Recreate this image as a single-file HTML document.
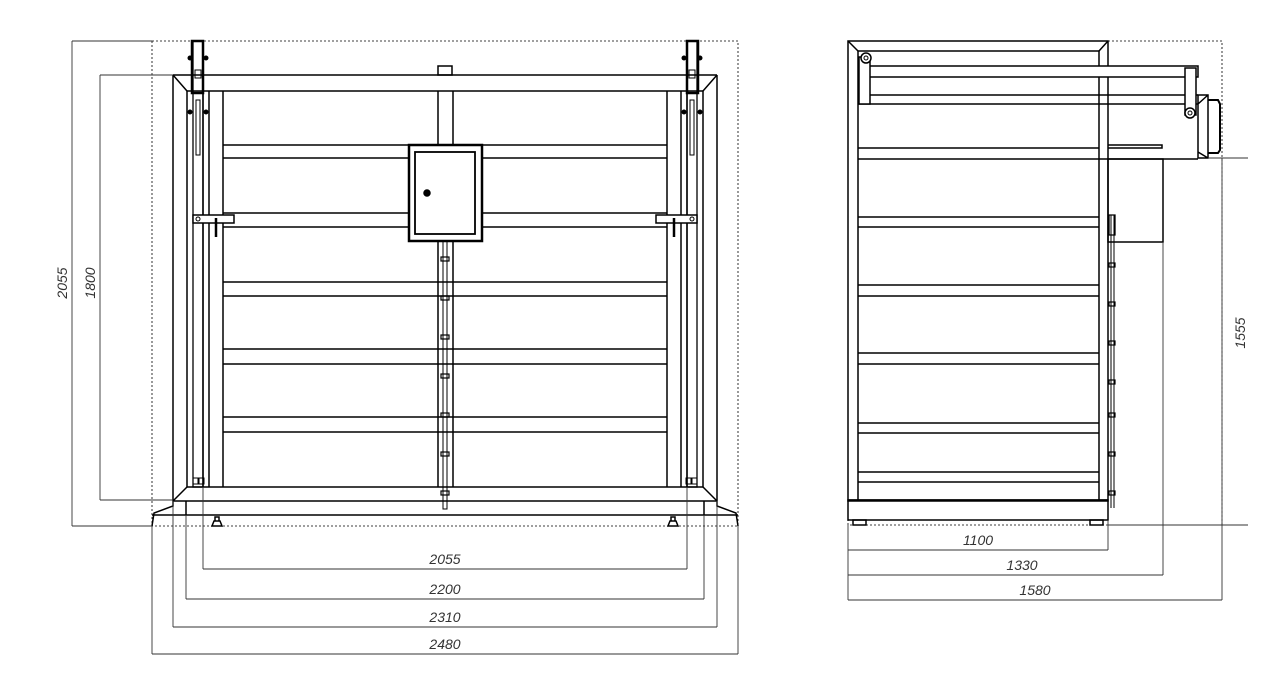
<!DOCTYPE html>
<html><head><meta charset="utf-8"><style>html,body{margin:0;padding:0;background:#fff}svg{display:block}</style></head><body>
<svg width="1280" height="682" viewBox="0 0 1280 682" xmlns="http://www.w3.org/2000/svg" font-family="Liberation Sans, sans-serif">
<g fill="none" stroke="#000" stroke-width="1.5">
<!-- FRONT VIEW -->
<rect x="152" y="41" width="586" height="485" stroke-width="0.8" stroke-dasharray="2,2"/>
<line x1="173" y1="75" x2="717" y2="75"/>
<line x1="187" y1="91" x2="703" y2="91"/>
<line x1="173" y1="75" x2="187" y2="91"/><line x1="717" y1="75" x2="703" y2="91"/>
<line x1="173" y1="75" x2="173" y2="501"/><line x1="717" y1="75" x2="717" y2="501"/>
<line x1="187" y1="91" x2="187" y2="487"/><line x1="703" y1="91" x2="703" y2="487"/>
<line x1="187" y1="487" x2="703" y2="487"/>
<line x1="173" y1="501" x2="717" y2="501"/>
<line x1="173" y1="501" x2="187" y2="487"/><line x1="717" y1="501" x2="703" y2="487"/>
<line x1="152" y1="515" x2="738" y2="515"/>
<line x1="186" y1="501" x2="186" y2="515"/><line x1="704" y1="501" x2="704" y2="515"/>
<path d="M173 501 L173 506 L154 513 L152 526"/><path d="M717 501 L717 506 L736 513 L738 526"/>
<path d="M212 526 L214 521 L220 521 L222 526 Z M215 521 L215 517 L219 517 L219 521"/>
<path d="M668 526 L670 521 L676 521 L678 526 Z M671 521 L671 517 L675 517 L675 521"/>
<line x1="209" y1="91" x2="209" y2="487"/><line x1="223" y1="91" x2="223" y2="487"/>
<line x1="203" y1="91" x2="203" y2="487"/>
<line x1="681" y1="91" x2="681" y2="487"/><line x1="667" y1="91" x2="667" y2="487"/>
<line x1="687" y1="91" x2="687" y2="487"/>
<rect x="193" y="41" width="10" height="446" stroke-width="1.3"/>
<rect x="687" y="41" width="10" height="446" stroke-width="1.3"/>
<rect x="192" y="41" width="11" height="52" stroke-width="2.5"/>
<rect x="687" y="41" width="11" height="52" stroke-width="2.5"/>
<rect x="196" y="100" width="4" height="55" stroke-width="1"/>
<rect x="690" y="100" width="4" height="55" stroke-width="1"/>
<rect x="195" y="70" width="6" height="8" stroke-width="1"/><rect x="689" y="70" width="6" height="8" stroke-width="1"/>
<rect x="193" y="478" width="5" height="6" stroke-width="1"/><rect x="199" y="478" width="5" height="6" stroke-width="1"/>
<rect x="686" y="478" width="5" height="6" stroke-width="1"/><rect x="692" y="478" width="5" height="6" stroke-width="1"/>
<g>
<line x1="223" y1="145" x2="667" y2="145"/><line x1="223" y1="158" x2="667" y2="158"/>
<line x1="223" y1="213" x2="667" y2="213"/><line x1="223" y1="227" x2="667" y2="227"/>
<line x1="223" y1="282" x2="667" y2="282"/><line x1="223" y1="296" x2="667" y2="296"/>
<line x1="223" y1="349" x2="667" y2="349"/><line x1="223" y1="364" x2="667" y2="364"/>
<line x1="223" y1="417" x2="667" y2="417"/><line x1="223" y1="432" x2="667" y2="432"/>
</g>
<line x1="438" y1="91" x2="438" y2="487"/><line x1="453" y1="91" x2="453" y2="487"/>
<rect x="438" y="66" width="14" height="9"/>
<rect x="443" y="241" width="4" height="268" stroke-width="1"/>
<g stroke-width="1.2">
<rect x="441" y="257" width="8" height="4"/><rect x="441" y="296" width="8" height="4"/><rect x="441" y="335" width="8" height="4"/><rect x="441" y="374" width="8" height="4"/><rect x="441" y="413" width="8" height="4"/><rect x="441" y="452" width="8" height="4"/><rect x="441" y="491" width="8" height="4"/>
</g>
<rect x="409" y="145" width="73" height="96" fill="#fff" stroke-width="2.5"/>
<rect x="415" y="152" width="60" height="82" stroke-width="1.8"/>
<circle cx="427" cy="193" r="3" fill="#000"/>
<rect x="193" y="215" width="41" height="8" fill="#fff"/>
<line x1="216" y1="218" x2="216" y2="237" stroke-width="2.5"/><circle cx="198" cy="219" r="2" stroke-width="1"/>
<rect x="656" y="215" width="41" height="8" fill="#fff"/>
<line x1="674" y1="218" x2="674" y2="237" stroke-width="2.5"/><circle cx="692" cy="219" r="2" stroke-width="1"/>
<g fill="#000" stroke="none"><circle cx="190" cy="58" r="2.5"/><circle cx="206" cy="58" r="2.5"/><circle cx="190" cy="112" r="2.5"/><circle cx="206" cy="112" r="2.5"/><circle cx="684" cy="58" r="2.5"/><circle cx="700" cy="58" r="2.5"/><circle cx="684" cy="112" r="2.5"/><circle cx="700" cy="112" r="2.5"/></g>

<g stroke="#333" stroke-width="0.9">
<line x1="72" y1="41" x2="152" y2="41"/><line x1="72" y1="526" x2="152" y2="526"/><line x1="72" y1="41" x2="72" y2="526"/>
<line x1="100" y1="75" x2="173" y2="75"/><line x1="100" y1="500" x2="173" y2="500"/><line x1="100" y1="75" x2="100" y2="500"/>
<line x1="203" y1="487" x2="203" y2="569"/><line x1="687" y1="487" x2="687" y2="569"/><line x1="203" y1="569" x2="687" y2="569"/>
<line x1="186" y1="515" x2="186" y2="599"/><line x1="704" y1="515" x2="704" y2="599"/><line x1="186" y1="599" x2="704" y2="599"/>
<line x1="173" y1="501" x2="173" y2="627"/><line x1="717" y1="501" x2="717" y2="627"/><line x1="173" y1="627" x2="717" y2="627"/>
<line x1="152" y1="526" x2="152" y2="654"/><line x1="738" y1="526" x2="738" y2="654"/><line x1="152" y1="654" x2="738" y2="654"/>
</g>

<!-- SIDE VIEW -->
<rect x="848" y="41" width="374" height="484" stroke-width="0.8" stroke-dasharray="2,2"/>
<rect x="848" y="41" width="260" height="460"/>
<line x1="858" y1="51" x2="1099" y2="51"/>
<line x1="858" y1="51" x2="858" y2="500"/><line x1="1099" y1="51" x2="1099" y2="500"/>
<line x1="848" y1="41" x2="858" y2="51"/><line x1="1108" y1="41" x2="1099" y2="51"/>
<line x1="848" y1="500" x2="1108" y2="500"/>
<rect x="848" y="500" width="260" height="20"/>
<rect x="853" y="520" width="13" height="5"/><rect x="1090" y="520" width="13" height="5"/>
<line x1="858" y1="148" x2="1099" y2="148"/><line x1="858" y1="159" x2="1198" y2="159"/>
<line x1="858" y1="217" x2="1099" y2="217"/><line x1="858" y1="227" x2="1099" y2="227"/>
<line x1="858" y1="285" x2="1099" y2="285"/><line x1="858" y1="296" x2="1099" y2="296"/>
<line x1="858" y1="353" x2="1099" y2="353"/><line x1="858" y1="364" x2="1099" y2="364"/>
<line x1="858" y1="423" x2="1099" y2="423"/><line x1="858" y1="433" x2="1099" y2="433"/>
<line x1="858" y1="472" x2="1099" y2="472"/><line x1="858" y1="482" x2="1099" y2="482"/>
<rect x="862" y="66" width="336" height="11" fill="#fff"/>
<line x1="858" y1="95" x2="1198" y2="95"/><line x1="858" y1="104" x2="1198" y2="104"/>
<rect x="859" y="57" width="11" height="47" fill="#fff"/>
<circle cx="866" cy="58" r="5" fill="#fff"/><circle cx="866" cy="58" r="2" stroke-width="1"/>
<rect x="1185" y="68" width="11" height="47" fill="#fff"/>
<circle cx="1190" cy="113" r="5" fill="#fff"/><circle cx="1190" cy="113" r="2" stroke-width="1"/>
<path d="M1198 95 L1208 95 L1208 158 L1198 158 Z M1198 104 L1208 95 M1198 152 L1208 158"/>
<path d="M1208 100 L1218 100 L1220 104 L1220 150 L1218 153 L1208 153" stroke-width="2"/>
<path d="M1108 148 L1162 148 L1162 145 L1108 145"/>
<rect x="1108" y="159" width="55" height="83"/>
<line x1="1163" y1="242" x2="1163" y2="575" stroke="#333" stroke-width="0.9"/>
<line x1="1111" y1="215" x2="1111" y2="508" stroke-width="1"/><line x1="1114" y1="215" x2="1114" y2="508" stroke-width="1"/>
<path d="M1109 215 L1115 215 L1115 235 L1109 235 Z" stroke-width="1.3"/>
<g stroke-width="1.2"><rect x="1109" y="263" width="6" height="4"/><rect x="1109" y="302" width="6" height="4"/><rect x="1109" y="341" width="6" height="4"/><rect x="1109" y="380" width="6" height="4"/><rect x="1109" y="413" width="6" height="4"/><rect x="1109" y="452" width="6" height="4"/><rect x="1109" y="491" width="6" height="4"/></g>

<g stroke="#333" stroke-width="0.9">
<line x1="848" y1="525" x2="848" y2="600"/>
<line x1="1108" y1="520" x2="1108" y2="550"/><line x1="848" y1="550" x2="1108" y2="550"/>
<line x1="848" y1="575" x2="1163" y2="575"/>
<line x1="1222" y1="525" x2="1222" y2="600"/><line x1="848" y1="600" x2="1222" y2="600"/>
<line x1="1208" y1="158" x2="1248" y2="158"/><line x1="1108" y1="525" x2="1248" y2="525"/>
<line x1="1222" y1="158" x2="1222" y2="525"/>
</g>
</g>
<g fill="#333" font-size="14" font-style="italic">
<text x="445" y="564" text-anchor="middle">2055</text>
<text x="445" y="594" text-anchor="middle">2200</text>
<text x="445" y="622" text-anchor="middle">2310</text>
<text x="445" y="649" text-anchor="middle">2480</text>
<text transform="translate(67,283) rotate(-90)" text-anchor="middle">2055</text>
<text transform="translate(95,283) rotate(-90)" text-anchor="middle">1800</text>
<text x="978" y="545" text-anchor="middle">1100</text>
<text x="1022" y="570" text-anchor="middle">1330</text>
<text x="1035" y="595" text-anchor="middle">1580</text>
<text transform="translate(1245,333) rotate(-90)" text-anchor="middle">1555</text>
</g>
</svg>
</body></html>
